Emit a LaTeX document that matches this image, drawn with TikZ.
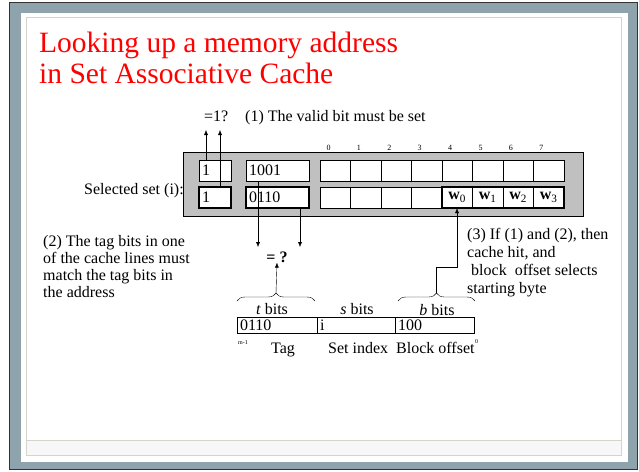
\documentclass[tikz,border=0pt]{standalone}
\usepackage{fontspec}
\setmainfont{Liberation Serif}
\usetikzlibrary{arrows.meta,decorations.pathreplacing}
\definecolor{slideblue}{HTML}{8FA3AD}
\definecolor{slidered}{HTML}{FF0000}
\definecolor{setgray}{HTML}{C0C0C0}
\definecolor{pageline}{HTML}{D4D4CC}

\begin{document}
\begin{tikzpicture}[x=1pt, y=-1pt, >={Latex[length=5pt,width=4pt]},
  every node/.style={font=\fontsize{16}{16.7}\selectfont, inner sep=0pt},
  txt/.style={anchor=base west, align=left},
  cell/.style={draw, fill=white, minimum width=30.5pt, minimum height=21pt},
  field/.style={draw, fill=white, text width=#1, minimum height=21pt, inner xsep=3pt, align=left},
  addr/.style={draw, text width=#1, minimum height=16pt, inner xsep=3pt, align=left},
  hot/.style={line width=2.5pt},
  brace/.style={decorate, decoration={brace, amplitude=8pt}}]
  \useasboundingbox (0,0) rectangle (639,471);

  % slide frame
  \fill[white] (0,0) rectangle (639,471);
  \draw[fill=slideblue, draw=black!80, line width=1.5pt] (9.5,2.5) rectangle (637.5,469.5);
  \fill[white] (21,13) rectangle (628,462);
  \draw[pageline, fill=white] (26,17) rectangle (621,455);
  \fill[black!3] (26.5,440) rectangle (620.5,454.5);
  \draw[pageline] (26,440) -- (621,440);

  % base of a multi-line node is its last line
  \node[txt, font=\fontsize{29.5}{31}\selectfont, text=slidered] (title) at (39,83)
    {Looking up a memory address\\in Set Associative Cache};

  % the selected set
  \node[draw, fill=setgray, minimum width=400pt, minimum height=64pt] (set) at (382.7,184) {};
  \node[field=26pt] (v1) at (215,170.5) {1};
  \node[field=57pt] (t1) at (277.5,170.5) {1001};
  \node[field=26pt, hot] (v2) at (215,197.5) {1};
  \node[field=57pt, hot] (t2) at (277.5,197.5) {0110};
  \foreach \i in {0,...,7} {
    \node[cell] (u\i) at ({335.25+30.5*\i},170.5) {};
    \node[font=\fontsize{8}{8}\selectfont] (n\i) at ({328.5+30.4*\i},148) {\i};
  }
  \foreach \i in {0,...,3} {
    \node[cell] (l\i) at ({335.25+30.5*\i},197.5) {};
    \node[cell] (w\i) at ({457.25+30.5*\i},197.5) {\textbf{w}\textsubscript{\i}};
  }
  \draw[hot] (w0.north west) rectangle (w3.south east);
  \node[txt] (sel) at (84,194) {Selected set (i):};

  % (1) valid bit
  \node[txt] (one) at (204,121) {=1?};
  \node[txt] (valid) at (245,121) {(1) The valid bit must be set};
  \coordinate (q1) at (206,130);
  \coordinate (q2) at (220,130);
  \draw[->] (v1.north -| q1) -- (q1);
  \draw[->] (v2.north -| q2) -- (q2);

  % (2) tag compare
  \node[txt] (match) at (43,297) {(2) The tag bits in one\\of the cache lines must\\match the tag bits in\\the address};
  \coordinate (d1) at (258,247);
  \coordinate (d2) at (300,247);
  \draw[->] (t1.south -| d1) -- (d1);
  \draw[->] (t2.south -| d2) -- (d2);
  \node[font=\fontsize{16}{16}\selectfont\bfseries] (eq) at (277,257) {= ?};

  % the address
  \node[addr=74pt] (at) at (277,325) {0110};
  \node[addr=72pt] (as) at (356,325) {i};
  \node[addr=73pt] (ao) at (434.5,325) {100};
  \node[anchor=base] (tl) at (272,314) {\textit{t} bits};
  \node[anchor=base] (sl) at (357,314) {\textit{s} bits};
  \node[anchor=base] (bl) at (437,315) {\textit{b} bits};
  \draw[brace] (237,301) -- (315,301);
  \draw[brace] (398,301) -- (475,301);
  \coordinate (tb) at (276,293);
  \coordinate (bb) at (436.5,293);
  \draw[->] (tb) -- (eq.south);
  \node[txt, font=\fontsize{6}{6}\selectfont] (mh) at (238,344) {m-1};
  \node[txt] (tg) at (271,353) {Tag};
  \node[txt] (si) at (328,353) {Set index};
  \node[txt] (bo) at (396,353) {Block offset};
  \node[txt, font=\fontsize{6}{6}\selectfont] (zero) at (475,343) {0};

  % (3) block offset
  \node[txt, font=\fontsize{16}{18}\selectfont] (hit) at (467,293)
    {(3) If (1) and (2), then\\cache hit, and\\~block~ offset selects\\starting byte};
  \coordinate (turn) at (457,267);
  \draw[->] (bb) |- (turn) -- (turn |- w0.south);
\end{tikzpicture}
\end{document}
